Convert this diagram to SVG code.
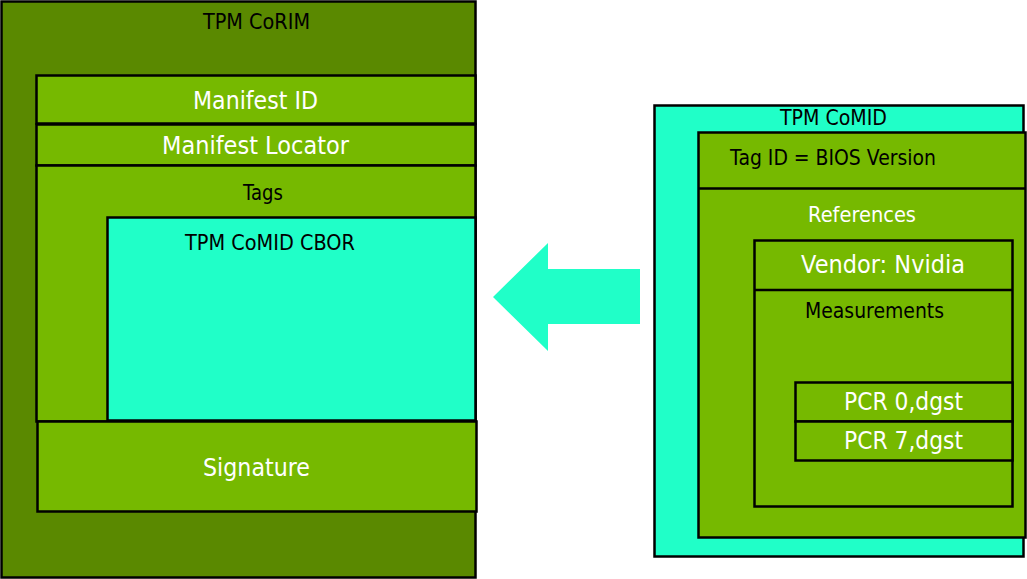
<svg xmlns="http://www.w3.org/2000/svg" width="1027" height="579" viewBox="0 0 1027 579">
<style>
.dk{fill:#5a8900;stroke:#000;stroke-width:2.5}
.lg{fill:#76b900;stroke:#000;stroke-width:2.5}
.tq{fill:#20ffc8;stroke:#000;stroke-width:2.5}
text{font-family:"DejaVu Sans","Liberation Sans",sans-serif}
.b{fill:#000;font-size:21.5px}
.w{fill:#fff;font-size:21.5px}
.wl{fill:#fff;font-size:25px}
</style>
<rect width="1027" height="579" fill="#fff"/>
<g id="corim">
<rect class="dk" x="1.5" y="1.5" width="474" height="576"/>
<text class="b" x="203" y="29" textLength="107" lengthAdjust="spacingAndGlyphs">TPM CoRIM</text>
</g>
<g id="manifest-id">
<rect class="lg" x="36.5" y="75.5" width="439" height="48"/>
<text class="wl" x="193" y="109" textLength="125" lengthAdjust="spacingAndGlyphs">Manifest ID</text>
</g>
<g id="manifest-locator">
<rect class="lg" x="36.5" y="124.5" width="439" height="41"/>
<text class="wl" x="162" y="154" textLength="187" lengthAdjust="spacingAndGlyphs">Manifest Locator</text>
</g>
<g id="tags">
<rect class="lg" x="36.5" y="165.5" width="439" height="256"/>
<text class="b" x="243" y="200" textLength="40" lengthAdjust="spacingAndGlyphs">Tags</text>
</g>
<g id="comid-cbor">
<rect class="tq" x="107.5" y="217.5" width="368" height="203"/>
<text class="b" x="185" y="250" textLength="170" lengthAdjust="spacingAndGlyphs">TPM CoMID CBOR</text>
</g>
<g id="signature">
<rect class="lg" x="37.5" y="421.5" width="439" height="90"/>
<text class="wl" x="203" y="476" textLength="107" lengthAdjust="spacingAndGlyphs">Signature</text>
</g>
<g id="connectors">
<polygon points="493,297 548,243 548,269 640,269 640,324 548,324 548,351" fill="#20ffc8"/>
</g>
<g id="comid">
<rect class="tq" x="654.5" y="105.5" width="369" height="451"/>
<text class="b" x="780" y="125" textLength="107" lengthAdjust="spacingAndGlyphs">TPM CoMID</text>
</g>
<g id="tag-id">
<rect class="lg" x="698.5" y="132.5" width="327" height="405"/>
<line x1="698.5" y1="188.5" x2="1025.5" y2="188.5" stroke="#000" stroke-width="2.5"/>
<text class="b" x="730" y="165" textLength="206" lengthAdjust="spacingAndGlyphs">Tag ID = BIOS Version</text>
<text class="w" x="808" y="222" textLength="108" lengthAdjust="spacingAndGlyphs">References</text>
</g>
<g id="vendor">
<rect class="lg" x="754.5" y="240.5" width="258" height="266"/>
<line x1="754.5" y1="290" x2="1012.5" y2="290" stroke="#000" stroke-width="2.5"/>
<text class="wl" x="801" y="273" textLength="164" lengthAdjust="spacingAndGlyphs">Vendor: Nvidia</text>
<text class="b" x="805" y="318" textLength="139" lengthAdjust="spacingAndGlyphs">Measurements</text>
</g>
<g id="pcr0">
<rect class="lg" x="795.5" y="382.5" width="217" height="39"/>
<text class="wl" x="844" y="410" textLength="119" lengthAdjust="spacingAndGlyphs">PCR 0,dgst</text>
</g>
<g id="pcr7">
<rect class="lg" x="795.5" y="421.5" width="217" height="39"/>
<text class="wl" x="844" y="449" textLength="119" lengthAdjust="spacingAndGlyphs">PCR 7,dgst</text>
</g>
</svg>
